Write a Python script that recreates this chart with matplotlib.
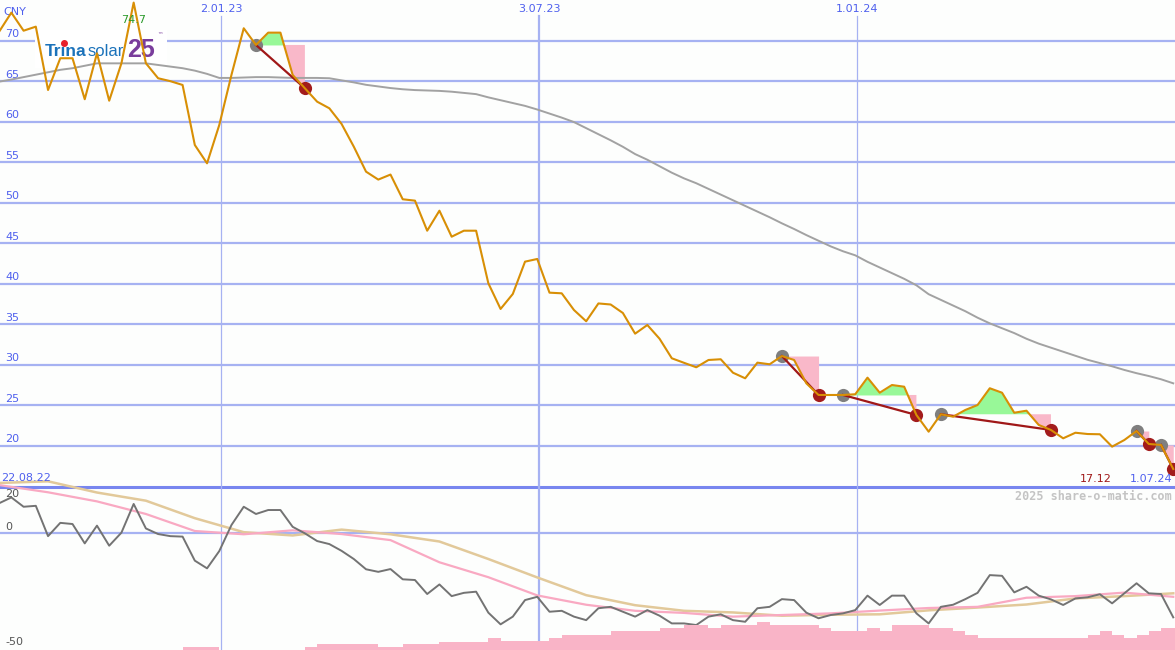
import matplotlib
matplotlib.use('Agg')
import matplotlib.pyplot as plt
from matplotlib.transforms import Affine2D
from matplotlib.patches import Rectangle
import pandas as pd

#----- DATA (weekly closes, CNY) -----

weeks = pd.date_range('2022-08-28', periods=97, freq='7D')

price = [71.11, 73.46, 71.23, 71.73, 63.91, 67.83, 67.83, 62.77, 68.44, 62.59,
         67.21, 74.70, 67.21, 65.36, 65.00, 64.53, 57.12, 54.86, 59.59, 65.80,
         71.53, 69.47, 70.99, 70.99, 65.77, 64.12, 62.47, 61.65, 59.72, 56.91,
         53.83, 52.85, 53.47, 50.42, 50.25, 46.54, 49.01, 45.80, 46.54, 46.54,
         40.05, 36.88, 38.73, 42.72, 43.05, 38.89, 38.81, 36.75, 35.36, 37.56,
         37.43, 36.38, 33.83, 34.90, 33.20, 30.79, 30.23, 29.68, 30.58, 30.67,
         29.01, 28.32, 30.25, 30.05, 31.07, 30.58, 27.70, 26.26, 26.26, 26.26,
         26.35, 28.40, 26.54, 27.49, 27.28, 23.79, 21.73, 23.88, 23.58, 24.41,
         25.02, 27.09, 26.54, 24.07, 24.32, 22.56, 21.94, 20.91, 21.60, 21.44,
         21.41, 19.88, 20.70, 21.81, 20.21, 20.09, 17.12]

avg = [64.94, 65.2, 65.5, 65.8, 66.1, 66.4, 66.6, 66.9, 67.2, 67.2,
       67.2, 67.2, 67.2, 67.0, 66.8, 66.6, 66.3, 65.9, 65.4, 65.4,
       65.45, 65.5, 65.5, 65.45, 65.4, 65.4, 65.4, 65.36, 65.1, 64.85,
       64.55, 64.35, 64.15, 64.0, 63.9, 63.85, 63.8, 63.7, 63.55, 63.4,
       63.0, 62.65, 62.3, 61.95, 61.5, 61.0, 60.5, 59.95, 59.2, 58.45,
       57.7, 56.9, 56.0, 55.3, 54.5, 53.7, 53.0, 52.4, 51.7, 51.0,
       50.3, 49.6, 48.9, 48.2, 47.45, 46.75, 46.0, 45.3, 44.6, 44.0,
       43.5, 42.7, 42.0, 41.3, 40.6, 39.8, 38.7, 38.0, 37.3, 36.6,
       35.8, 35.1, 34.5, 33.9, 33.2, 32.6, 32.1, 31.6, 31.1, 30.6,
       30.2, 29.8, 29.35, 28.95, 28.6, 28.2, 27.7]

mom = [12.9, 15.4, 11.4, 11.8, -1.2, 4.5, 4.0, -4.3, 3.3, -5.3,
       0.3, 12.6, 2.1, -0.3, -1.2, -1.4, -11.7, -15.0, -7.6, 3.6,
       11.4, 8.3, 10.0, 10.0, 2.8, 0.0, -3.3, -4.6, -7.5, -11.0,
       -15.4, -16.5, -15.3, -19.7, -20.0, -26.0, -21.9, -26.9, -25.5, -25.0,
       -34.0, -39.0, -35.7, -28.6, -27.2, -33.6, -33.2, -35.7, -37.2, -32.1,
       -31.5, -33.6, -35.7, -32.9, -35.3, -38.6, -38.6, -39.3, -35.7, -34.7,
       -37.2, -37.9, -32.1, -31.5, -28.2, -28.6, -34.0, -36.4, -35.0, -34.3,
       -32.9, -26.7, -30.7, -26.7, -26.7, -34.3, -38.6, -31.5, -30.6, -28.2,
       -25.5, -17.9, -18.2, -25.3, -22.9, -26.7, -28.3, -30.7, -27.9, -27.4,
       -26.1, -30.0, -25.7, -21.4, -25.7, -26.0, -36.0]

# smoothed signal lines, read every 4th week
sig_pink = [20.7, 17.6, 13.7, 8.3, 1.0, -0.4, 1.3, -0.3, -2.9, -12.4, -18.8,
            -26.6, -30.6, -33.2, -34.1, -35.7, -35.0, -34.3, -33.1, -32.0,
            -31.5, -27.6, -26.9, -25.4, -27.2]
sig_tan = [21.6, 22.3, 17.5, 14.0, 6.5, 0.5, -0.9, 1.6, -0.4, -3.5, -11.0,
           -18.9, -26.5, -30.8, -33.2, -33.9, -35.3, -34.9, -34.7, -33.0,
           -31.8, -30.5, -27.9, -26.9, -25.7]

vol = ([0]*15 + [3.3]*3 + [0]*7 + [3.3] + [6]*5 + [3.3]*2 + [6]*3 + [8.3]*4
       + [12.3] + [9]*4 + [11.7] + [15]*4 + [19]*4 + [22.3]*2 + [25]*2 + [22.3]
       + [25]*3 + [28] + [25]*4 + [22.3] + [19]*3 + [22.3] + [19] + [25]*3
       + [22.3]*2 + [19] + [15] + [12.3]*9 + [15, 19, 15, 12.3, 15, 19, 22.3, 22.3])

buy_idx = [21, 64, 69, 77, 93, 95]
sell_idx = [25, 67, 75, 86, 94, 96]

mark_dates = ['2023-01-02', '2023-07-03', '2024-01-01']
mark_labels = ['2.01.23', '3.07.23', '1.01.24']
price_ticks = [70, 65, 60, 55, 50, 45, 40, 35, 30, 25, 20]

#----- STYLE -----
W, H = 1175, 650
grid_c = '#a6b2f2'
lab_c = '#4f60ee'
xmin, xmax = pd.Timestamp('2022-08-28 12:00'), pd.Timestamp('2024-07-01')

fig = plt.figure(figsize=(W/100, H/100), dpi=100, facecolor='#fdfefd')
pix = Affine2D().scale(1/W, -1/H).translate(0, 1) + fig.transFigure

#----- lower panel: oscillator -----
ax2 = fig.add_axes([0, 0, 1, 180/H])
ax2.set_facecolor('none')
ax2.axis('off')
ax2.set_xlim(xmin, xmax)
ax2.set_ylim(-50, -50 + 180/2.333)
ax2.axhline(0, color=grid_c, lw=1.6, zorder=1)
ax2.axhline(20, color='#7886ef', lw=2.2, zorder=1)
for d in mark_dates:
    ax2.plot([pd.Timestamp(d)]*2, [-50, 20], color=grid_c,
             lw=1.6 if d.endswith('07-03') else 0.9, zorder=1)
ax2.plot(weeks[::4], sig_tan, color='#e2c99a', lw=1.8, zorder=2)
ax2.plot(weeks[::4], sig_pink, color='#f9a9c2', lw=1.6, zorder=2)
ax2.plot(weeks, mom, color='#737373', lw=1.4, zorder=3)
yt = ax2.get_yaxis_transform()
ax2.text(5/W, 20 - 0.8, '20', transform=yt, va='top', ha='left', fontsize=8, color='#555555')
ax2.text(5/W, 0.5, '0', transform=yt, va='bottom', ha='left', fontsize=8, color='#555555')
ax2.text(5/W, -48.6, '-50', transform=yt, va='bottom', ha='left', fontsize=8, color='#555555')

# volume bars
ax3 = fig.add_axes([0, 0, 1, 180/H])
ax3.set_facecolor('none')
ax3.axis('off')
ax3.set_xlim(xmin, xmax)
ax3.set_ylim(0, 180)
ax3.bar(weeks, vol, width=7, align='edge', color='#f9b4c7', linewidth=0)

#----- upper panel: price -----
ax = fig.add_axes([0, 163/H, 1, 487/H])
ax.set_facecolor('none')
ax.axis('off')
ax.set_xlim(xmin, xmax)
ax.set_ylim(14.9, 75.02)
yt = ax.get_yaxis_transform()
for v in price_ticks:
    ax.axhline(v, color=grid_c, lw=1.6, zorder=1)
    ax.text(5/W, v + 0.15, str(v), transform=yt, va='bottom', ha='left',
            fontsize=8, color=lab_c)
for d, lab in zip(mark_dates, mark_labels):
    ax.axvline(pd.Timestamp(d), ymax=1 - 16/487, color=grid_c,
               lw=1.6 if d.endswith('07-03') else 0.9, zorder=1)
    ax.text(pd.Timestamp(d), 73.95, lab, ha='center', va='center',
            fontsize=8, color=lab_c)

# logo
ax.add_patch(Rectangle((35, 30), 132, 38, transform=pix, facecolor='white',
                       edgecolor='none', zorder=2))
ax.text(45, 51, 'Trina', transform=pix, family='Liberation Sans', fontweight='bold',
        fontsize=12.5, color='#1b72ba', va='center', ha='left', zorder=2.5)
ax.text(88, 51, 'solar', transform=pix, family='Liberation Sans',
        fontsize=12, color='#1b72ba', va='center', ha='left', zorder=2.5)
ax.plot([64], [43], 'o', ms=4, color='#e8202a', transform=pix, zorder=2.6)
ax.text(127, 50, '25', transform=pix, family='Liberation Sans', fontweight='bold',
        fontsize=18, color='#7a3d9c', va='center', ha='left', zorder=2.4)
ax.text(157, 36, '™', transform=pix, fontsize=4, color='#7a3d9c', va='center', zorder=2.5)

# trades
for a, b in zip(buy_idx, sell_idx):
    lvl = price[a]
    xs, ys = weeks[a:b+1], price[a:b+1]
    ax.fill_between(xs, ys, lvl, where=[y >= lvl for y in ys], interpolate=True,
                    color='#98f898', lw=0, zorder=2)
    ax.fill_between(xs, ys, lvl, where=[y <= lvl for y in ys], interpolate=True,
                    color='#f9b8c9', lw=0, zorder=2)

ax.plot(weeks, avg, color='#a2a2a2', lw=1.4, zorder=3)
ax.plot([weeks[i] for i in buy_idx], [price[i] for i in buy_idx], 'o',
        ms=9.5, color='#7f7f7f', mec='none', zorder=4)
ax.plot([weeks[i] for i in sell_idx], [price[i] for i in sell_idx], 'o',
        ms=9.5, color='#a31c1c', mec='none', zorder=4)
for a, b in zip(buy_idx, sell_idx):
    ax.plot([weeks[a], weeks[b]], [price[a], price[b]], color='#a01818', lw=1.6, zorder=4.5)
ax.plot(weeks, price, color='#d88f05', lw=1.5, zorder=5)

imax = price.index(max(price))
ax.text(weeks[imax], 72.55, f'{max(price):.1f}', ha='center', va='center',
        fontsize=8, color='#2a9a2a', zorder=6)
ax.text(3, 12, 'CNY', transform=pix, fontsize=8, color=lab_c, va='center', ha='left')

# footer texts
fig.text(1, 478, '22.08.22', transform=pix, fontsize=8, color=lab_c, va='center', ha='left')
fig.text(1112, 479, f'{price[-1]:.2f}', transform=pix, fontsize=8, color='#a01818',
         va='center', ha='right')
fig.text(1172, 479, '1.07.24', transform=pix, fontsize=8, color=lab_c, va='center', ha='right')
fig.text(1172, 496, '2025 share-o-matic.com', transform=pix, family='DejaVu Sans Mono',
         fontweight='bold', fontsize=8.5, color='#c4c4c4', va='center', ha='right')

fig.savefig('out.png', dpi=100, facecolor=fig.get_facecolor())
